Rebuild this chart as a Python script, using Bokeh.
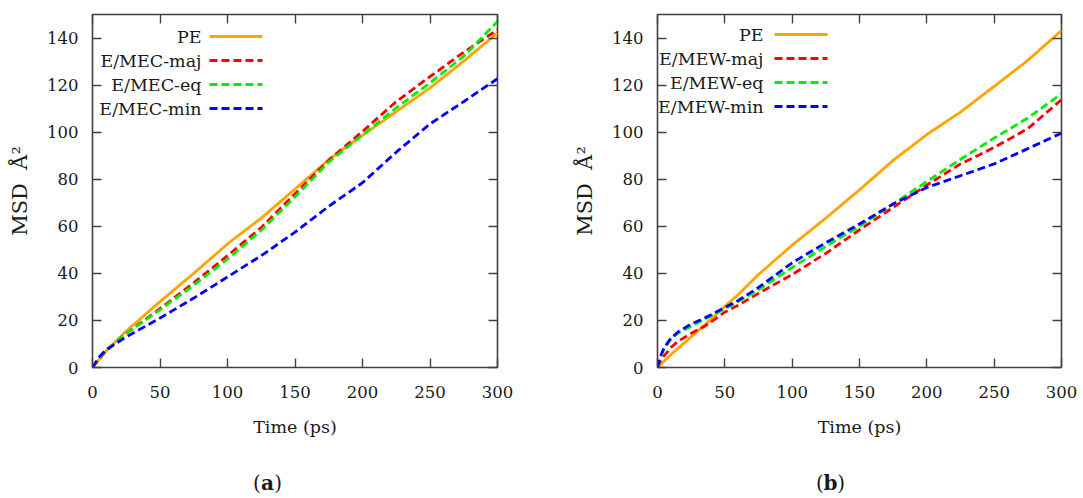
from bokeh.plotting import figure
from bokeh.layouts import row, column
from bokeh.models import (Range1d, LinearAxis, SingleIntervalTicker, Label, Arrow)
from bokeh.embed import file_html
from bokeh.resources import INLINE

# ---------------- data ----------------
time_a = [0, 5, 10, 25, 50, 75, 100, 125, 150, 175, 200, 225, 250, 275, 300]
pe_a   = [0, 3.5, 7.0, 15.5, 28.0, 40.0, 52.5, 63.5, 75.8, 88.3, 98.6, 108.7, 118.8, 130.2, 142.2]
maj_a  = [0, 3.8, 7.0, 14.5, 25.0, 36.0, 47.5, 59.5, 73.8, 88.1, 100.3, 113.0, 123.6, 134.0, 143.5]
eq_a   = [0, 4.0, 7.2, 14.5, 24.5, 35.0, 46.0, 58.3, 72.5, 87.3, 98.8, 110.3, 120.9, 132.3, 147.0]
min_a  = [0, 4.5, 7.5, 13.0, 21.0, 29.5, 38.5, 47.5, 57.5, 68.5, 78.5, 91.5, 103.5, 113.0, 122.7]
names_a = ["PE", "E/MEC-maj", "E/MEC-eq", "E/MEC-min"]

time_b = [0, 2, 5, 10, 15, 25, 35, 50, 60, 75, 100, 125, 150, 175, 200, 225, 250, 275, 300]
pe_b   = [0, 1.0, 2.8, 5.5, 8.0, 13.0, 18.0, 26.0, 31.0, 39.5, 52.0, 63.5, 75.5, 88.0, 99.0, 108.5, 119.5, 130.5, 143.2]
maj_b  = [0, 2.5, 5.0, 8.5, 11.0, 14.5, 17.5, 23.5, 26.5, 31.5, 39.5, 48.5, 58.5, 68.0, 77.5, 86.5, 93.5, 101.5, 113.8]
eq_b   = [0, 4.0, 8.0, 12.0, 14.5, 17.5, 20.5, 25.0, 28.0, 33.0, 42.5, 51.5, 60.0, 69.5, 79.0, 88.5, 97.5, 106.0, 116.3]
min_b  = [0, 4.5, 8.5, 12.5, 15.0, 18.5, 21.0, 25.5, 28.5, 34.0, 44.5, 53.0, 61.0, 69.5, 76.5, 81.5, 86.5, 93.0, 99.6]
names_b = ["PE", "E/MEW-maj", "E/MEW-eq", "E/MEW-min"]

x_ticks_step = 50
y_ticks_step = 20

COLORS = ["#FFA500", "#FF0000", "#00EE00", "#0000FF"]
DASHES = ["solid", "8 4", "8 4", "8 4"]
FONT = "DejaVu Serif"
FRAME = "#404040"
TXT = "#1a1a1a"
H = 460       # panel height
CAP_H = 36    # caption strip height


def make_panel(t, series, names, width, b_left, b_right, b_top, frame_h,
               leg_x0, leg_x1, leg_text_x, leg_ys):
    p = figure(width=width, height=H, output_backend="svg", toolbar_location=None,
               x_range=Range1d(0, 300), y_range=Range1d(0, 150),
               min_border_left=b_left, min_border_right=b_right,
               min_border_top=b_top, min_border_bottom=H - b_top - frame_h,
               x_axis_label="Time (ps)", y_axis_label="MSD\u00a0\u00a0Å²")
    p.grid.visible = False
    p.outline_line_color = FRAME
    p.outline_line_width = 1.6
    p.background_fill_color = "white"
    p.border_fill_color = "white"

    for ax in (p.xaxis[0], p.yaxis[0]):
        ax.axis_line_color = None
        ax.major_tick_in = 9
        ax.major_tick_out = 0
        ax.minor_tick_line_color = None
        ax.major_tick_line_color = FRAME
        ax.major_tick_line_width = 1.4
        ax.major_label_text_font = FONT
        ax.major_label_text_font_size = "16.5px"
        ax.major_label_text_color = TXT
        ax.axis_label_text_font = FONT
        ax.axis_label_text_font_size = "17.5px"
        ax.axis_label_text_font_style = "normal"
        ax.axis_label_text_color = TXT
    p.yaxis[0].axis_label_text_font_size = "21px"
    p.xaxis[0].ticker = SingleIntervalTicker(interval=x_ticks_step)
    p.yaxis[0].ticker = SingleIntervalTicker(interval=y_ticks_step)
    p.xaxis[0].major_label_standoff = 14
    p.xaxis[0].axis_label_standoff = 16
    p.yaxis[0].major_label_standoff = 10
    p.yaxis[0].axis_label_standoff = 12

    # mirrored ticks on top and right (no labels)
    for loc, step in (("above", x_ticks_step), ("right", y_ticks_step)):
        ax = LinearAxis(ticker=SingleIntervalTicker(interval=step))
        ax.axis_line_color = None
        ax.major_tick_in = 9
        ax.major_tick_out = 0
        ax.minor_tick_line_color = None
        ax.major_tick_line_color = FRAME
        ax.major_tick_line_width = 1.4
        ax.major_label_text_font_size = "8px"
        ax.major_label_text_color = None
        ax.major_label_standoff = 0
        p.add_layout(ax, loc)

    for ys, c, d in zip(series, COLORS, DASHES):
        p.line(t, ys, line_color=c, line_width=2.8, line_dash=d)

    # legend (text right-aligned, sample line to the right)
    for name, c, d, ly in zip(names, COLORS, DASHES, leg_ys):
        p.add_layout(Arrow(x_start=leg_x0, y_start=ly, x_end=leg_x1, y_end=ly,
                           start_units="screen", end_units="screen", end=None,
                           line_color=c, line_width=2.8, line_dash=d))
        p.add_layout(Label(x=leg_text_x, y=ly, x_units="screen", y_units="screen",
                           text=name, text_align="right", text_baseline="middle",
                           text_font=FONT, text_font_size="17.5px", text_color=TXT))
    return p


def make_caption(letter, width, cap_x):
    c = figure(width=width, height=CAP_H, output_backend="svg", toolbar_location=None,
               x_range=Range1d(0, 1), y_range=Range1d(0, 1),
               x_axis_location=None, y_axis_location=None,
               min_border=0, min_border_left=0, min_border_right=0,
               min_border_top=0, min_border_bottom=0)
    c.grid.visible = False
    c.outline_line_color = None
    cy = 14
    parts = [("(", cap_x - 6.8, "right", "normal"),
             (letter, cap_x, "center", "bold"),
             (")", cap_x + 6.8, "left", "normal")]
    for s, x, al, st in parts:
        c.add_layout(Label(x=x, y=cy, x_units="screen", y_units="screen", text=s,
                           text_align=al, text_baseline="middle", text_font=FONT,
                           text_font_size="20px", text_font_style=st, text_color=TXT))
    return c


pa = make_panel(time_a, [pe_a, maj_a, eq_a, min_a], names_a,
                width=536, b_left=92, b_right=39, b_top=14, frame_h=353,
                leg_x0=117, leg_x1=170, leg_text_x=109,
                leg_ys=[331, 307, 283, 259])
pb = make_panel(time_b, [pe_b, maj_b, eq_b, min_b], names_b,
                width=547, b_left=121, b_right=22, b_top=13, frame_h=354,
                leg_x0=117, leg_x1=170, leg_text_x=106,
                leg_ys=[333, 309, 285, 261])
ca = make_caption("a", 536, 267)
cb = make_caption("b", 547, 294)

layout = column(row(pa, pb), row(ca, cb))
open("out.html", "w").write(file_html(layout, INLINE))
